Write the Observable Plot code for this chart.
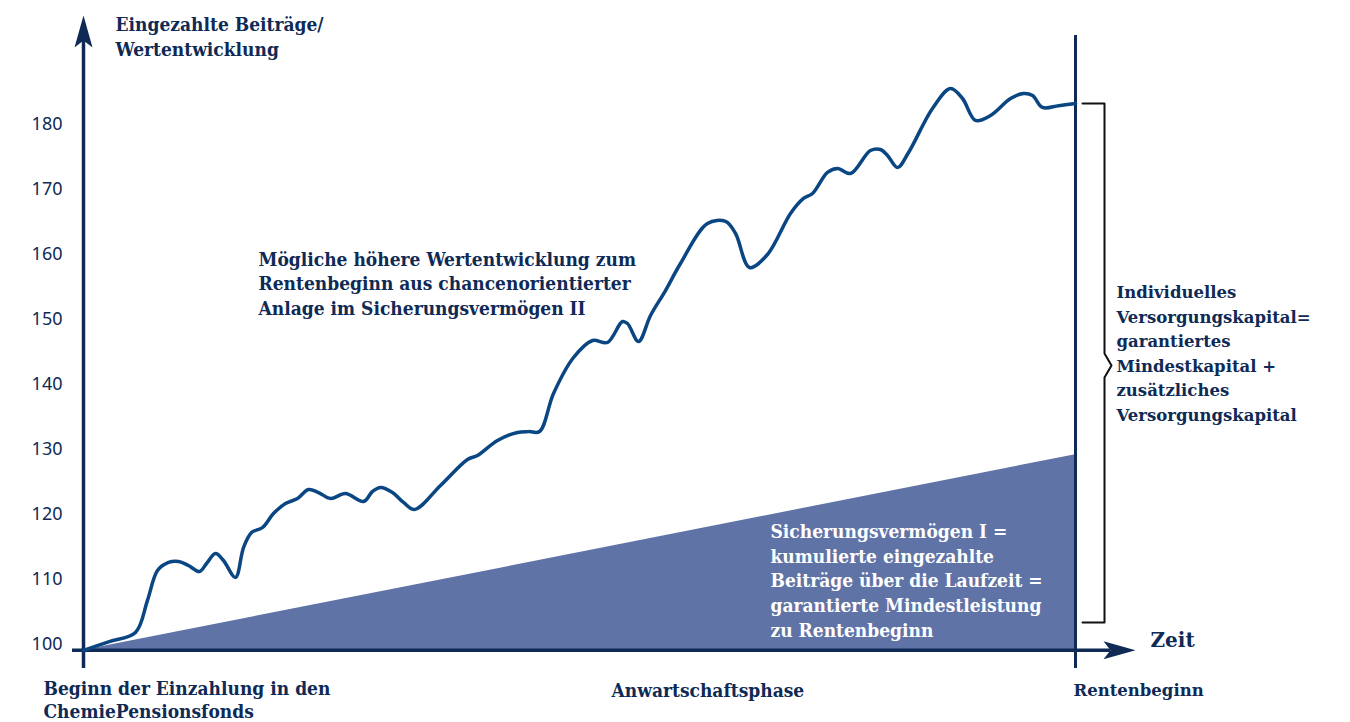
<!DOCTYPE html>
<html>
<head>
<meta charset="utf-8">
<script src="https://cdn.jsdelivr.net/npm/d3@7"></script>
<script src="https://cdn.jsdelivr.net/npm/@observablehq/plot@0.6"></script>
<style>
  html, body { margin: 0; padding: 0; background: #fff; }
  #chart svg { display: block; }
</style>
</head>
<body>
<div id="chart"></div>
<script>
// ---- data (x: 0 = Beginn, 100 = Rentenbeginn) ----
const timeSteps = [0, 2.6, 5.24, 6.45, 7.46, 8.57, 9.58, 10.58, 11.69, 12.40, 13.31, 14.11, 15.32, 16.13, 16.94, 18.05, 19.15, 20.36, 21.57, 22.68, 23.69, 24.90, 26.41, 28.23, 29.13, 29.94, 31.15, 32.26, 33.37, 35.99, 38.71, 39.72, 41.73, 43.75, 44.9, 45.97, 47.38, 49.40, 51.31, 52.82, 54.33, 54.84, 55.95, 57.16, 58.67, 60.18, 62.90, 64.72, 65.73, 67.14, 68.95, 71.27, 72.58, 73.49, 75.00, 76.01, 77.32, 79.33, 80.34, 81.05, 82.06, 83.17, 85.58, 87.40, 88.61, 89.92, 91.43, 93.45, 94.76, 95.67, 96.67, 98.3, 100];
const wertentwicklung = [99.1, 100.45, 101.85, 106.8, 111.38, 112.62, 112.77, 112.15, 111.23, 112.46, 114.0, 112.92, 110.31, 114.92, 117.23, 118.0, 120.15, 121.69, 122.46, 123.85, 123.38, 122.46, 123.23, 122.0, 123.54, 124.15, 123.38, 121.85, 120.77, 124.46, 128.46, 129.08, 131.38, 132.62, 132.75, 132.77, 138.62, 144.15, 146.77, 146.46, 149.69, 149.38, 146.62, 150.62, 154.46, 158.62, 164.77, 165.08, 163.23, 158.0, 160.0, 166.31, 168.62, 169.38, 172.62, 173.23, 172.46, 176.0, 176.15, 175.23, 173.38, 175.69, 182.46, 185.54, 184.0, 180.62, 181.38, 184.0, 184.77, 184.46, 182.62, 182.9, 183.23];
const guaranteeT = [0, 100];
const guaranteeV = [99.1, 129.2];
const baseValue = 99.1;
const yTicks = [100, 110, 120, 130, 140, 150, 160, 170, 180];

const labelYTitle = "Eingezahlte Beiträge/\nWertentwicklung";
const labelChance = "Mögliche höhere Wertentwicklung zum\nRentenbeginn aus chancenorientierter\nAnlage im Sicherungsvermögen II";
const labelSicher = "Sicherungsvermögen I =\nkumulierte eingezahlte\nBeiträge über die Laufzeit =\ngarantierte Mindestleistung\nzu Rentenbeginn";
const labelKapital = "Individuelles\nVersorgungskapital=\ngarantiertes\nMindestkapital +\nzusätzliches\nVersorgungskapital";
const labelStart = "Beginn der Einzahlung in den\nChemiePensionsfonds";
const labelPhase = "Anwartschaftsphase";
const labelEnd = "Rentenbeginn";
const labelZeit = "Zeit";

// ---- layout ----
const W = 1350, H = 722;
const mL = 83, mR = 275, mT = 59, mB = 45.5;
const yDomain = [95, 190];
// helpers to place annotations given page pixels
const X = px => (px - mL) / ((W - mL - mR) / 100);
const Y = py => yDomain[0] + (H - mB - py) / ((H - mB - mT) / (yDomain[1] - yDomain[0]));

const navy = "#0e2a55";
const lineBlue = "#0a4682";
const areaFill = "#5f73a7";
const slab = "'DejaVu Serif Condensed', 'DejaVu Serif', serif";
const serif = "'DejaVu Serif', serif";

const series = timeSteps.map((t, i) => ({t, v: wertentwicklung[i]}));
const guarantee = guaranteeT.map((t, i) => ({t, v: guaranteeV[i]}));

const arrowHead = {
  draw(ctx) {
    ctx.moveTo(0, 0);
    ctx.lineTo(9, 32);
    ctx.lineTo(0, 25);
    ctx.lineTo(-9, 32);
    ctx.closePath();
  }
};

const last = wertentwicklung[wertentwicklung.length - 1];
const bracketBottom = Y(622);
const bx0 = X(1082), bx1 = X(1104), bxp = X(1111);
const midPy = 365;
const bracket = [
  {t: bx0, v: last}, {t: bx1, v: last}, {t: bx1, v: Y(midPy - 12)},
  {t: bxp, v: Y(midPy)}, {t: bx1, v: Y(midPy + 12)}, {t: bx1, v: bracketBottom}, {t: bx0, v: bracketBottom}
];

const txt = (s, px, py, o = {}) => Plot.text([s], {
  x: X(px), y: Y(py), text: d => d, textAnchor: "start", lineAnchor: "middle",
  fill: navy, fontWeight: "bold", fontFamily: slab, fontSize: 19, lineHeight: 1.3, ...o
});

const chart = Plot.plot({
  width: W, height: H,
  marginLeft: mL, marginRight: mR, marginTop: mT, marginBottom: mB,
  x: {domain: [0, 100], axis: null},
  y: {domain: yDomain, axis: null},
  style: {background: "#fff", overflow: "visible"},
  marks: [
    Plot.areaY(guarantee, {x: "t", y1: baseValue, y2: "v", fill: areaFill}),
    Plot.axisY(yTicks, {ticks: yTicks, tickSize: 0, tickPadding: 21, fontSize: 18, fill: navy, fontFamily: "'Noto Sans', sans-serif", label: null}),
    Plot.ruleY([baseValue], {x1: X(72), x2: X(1110), stroke: navy, strokeWidth: 3.5}),
    Plot.ruleX([0], {y1: Y(668), y2: Y(40), stroke: navy, strokeWidth: 3.5}),
    Plot.ruleX([100], {y1: Y(668), y2: Y(35), stroke: navy, strokeWidth: 3}),
    Plot.line(series, {x: "t", y: "v", stroke: lineBlue, strokeWidth: 3.5, curve: "catmull-rom", strokeLinejoin: "round"}),
    Plot.dot([0], {x: 0, y: Y(15), symbol: arrowHead, fill: navy, stroke: "none", r: 10}),
    Plot.dot([0], {x: X(1135), y: baseValue, symbol: arrowHead, fill: navy, stroke: "none", r: 10, rotate: 90}),
    Plot.line(bracket, {x: "t", y: "v", stroke: "#111", strokeWidth: 2, curve: "linear"}),
    txt(labelYTitle, 115, 35),
    txt(labelChance, 258, 282),
    txt(labelSicher, 770, 579, {fill: "#fff"}),
    txt(labelKapital, 1116, 351, {fontFamily: serif, fontSize: 16.5, lineHeight: 1.49}),
    txt(labelStart, 43, 699, {lineHeight: 1.2}),
    txt(labelPhase, 611, 689),
    txt(labelEnd, 1073, 689, {fontFamily: serif, fontSize: 16.5}),
    txt(labelZeit, 1150, 638, {fontFamily: serif, fontSize: 20})
  ]
});
document.getElementById("chart").appendChild(chart);
</script>
</body>
</html>
